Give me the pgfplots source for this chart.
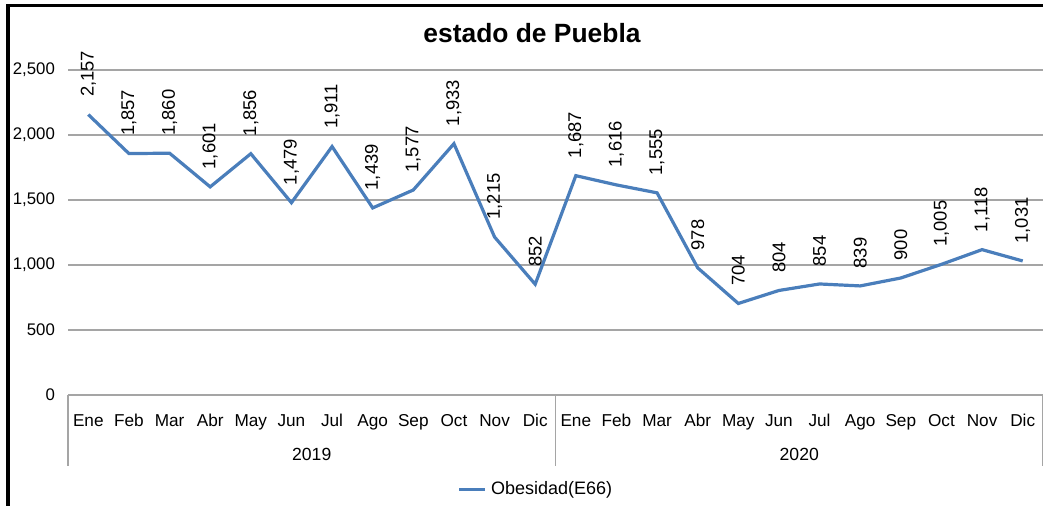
\documentclass[border=0pt]{standalone}
\usepackage{pgfplots}
\pgfplotsset{compat=1.18}
\usepackage{fontspec}
\setmainfont{Liberation Sans}
\definecolor{lineblue}{RGB}{74,126,187}
\definecolor{gridgray}{RGB}{165,165,165}
\begin{document}
\begin{tikzpicture}[x=1pt,y=1pt]
\useasboundingbox (0,0) rectangle (521.5,253);
\begin{axis}[
  at={(34pt,55.5pt)}, anchor=south west,
  scale only axis, width=487.5pt, height=162.5pt,
  xmin=-0.5, xmax=23.5, ymin=0, ymax=2500,
  xtick={0,...,23},
  xticklabels={Ene,Feb,Mar,Abr,May,Jun,Jul,Ago,Sep,Oct,Nov,Dic,Ene,Feb,Mar,Abr,May,Jun,Jul,Ago,Sep,Oct,Nov,Dic},
  ytick={0,500,1000,1500,2000,2500},
  major tick length=0pt,
  axis line style={draw=none},
  ymajorgrids, grid style={gridgray, line width=0.9pt},
  clip=false,
  /pgf/number format/1000 sep={,},
  /pgf/number format/assume math mode=true,
  yticklabel style={font=\fontsize{8.4}{10}\selectfont, xshift=-3pt},
  xticklabel style={font=\fontsize{8.6}{10}\selectfont, yshift=-5.5pt,
    text height=6.5pt, text depth=1.8pt},
  legend style={at={(0.481,-0.292)}, anchor=center, draw=none, fill=none,
    font=\fontsize{9}{11}\selectfont, inner sep=1pt},
  legend image code/.code={\draw[#1] (0pt,0pt) -- (13pt,0pt);},
]
\addplot[lineblue, line width=1.6pt, nodes near coords,
  every node near coord/.append style={yshift=7pt, rotate=90, anchor=west,
    font=\fontsize{9.2}{11}\selectfont, text=black, inner sep=1pt}]
  coordinates {
  (0,2157) (1,1857) (2,1860) (3,1601) (4,1856) (5,1479)
  (6,1911) (7,1439) (8,1577) (9,1933) (10,1215) (11,852)
  (12,1687) (13,1616) (14,1555) (15,978) (16,704) (17,804)
  (18,854) (19,839) (20,900) (21,1005) (22,1118) (23,1031)
  };
\addlegendentry{Obesidad(E66)}
\draw[gridgray, line width=0.9pt] (axis cs:-0.5,0) -- (axis cs:-0.5,-546);
\draw[gridgray, line width=0.9pt] (axis cs:11.5,0) -- (axis cs:11.5,-546);
\draw[gridgray, line width=0.9pt] (axis cs:23.5,0) -- (axis cs:23.5,-546);
\node[font=\fontsize{8.8}{10}\selectfont] at (axis cs:5.5,-455) {2019};
\node[font=\fontsize{8.8}{10}\selectfont] at (axis cs:17.5,-455) {2020};
\end{axis}
\node[font=\bfseries\fontsize{13.2}{15}\selectfont] at (266,236.5) {estado de Puebla};
\draw[black, line width=1.75pt] (4,0) -- (4,251.1);
\draw[black, line width=1.75pt] (3.1,250.25) -- (521.5,250.25);
\end{tikzpicture}
\end{document}
